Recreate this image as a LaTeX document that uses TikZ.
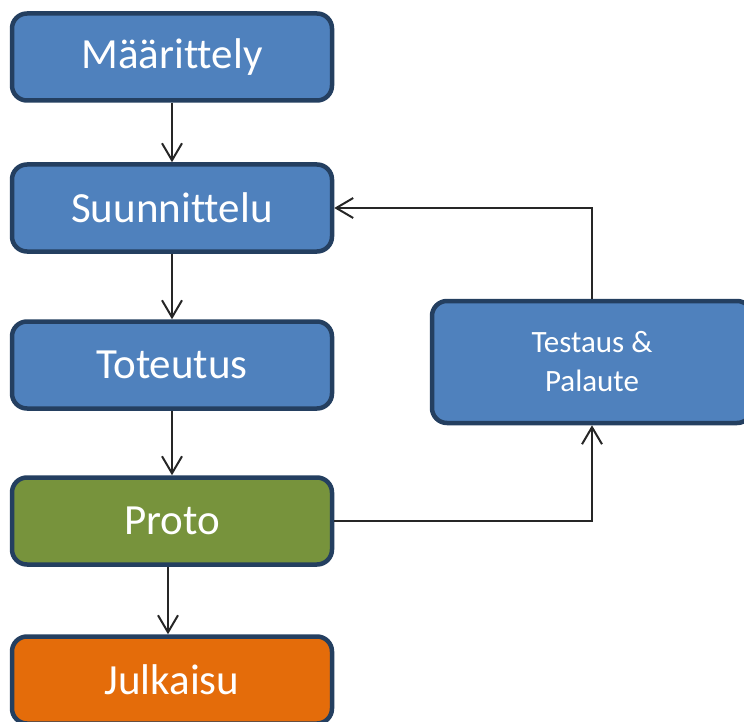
\documentclass[tikz,border=0pt]{standalone}
\usepackage{fontspec}
\setmainfont{Carlito}[Ligatures=NoCommon]
\usetikzlibrary{arrows.meta}
\definecolor{boxblue}{HTML}{4F81BD}
\definecolor{boxgreen}{HTML}{77933C}
\definecolor{boxorange}{HTML}{E46C0A}
\definecolor{boxedge}{HTML}{243F60}
\definecolor{lineclr}{HTML}{262626}
\begin{document}
\begin{tikzpicture}[x=1pt,y=-1pt]
				\tikzstyle{box}=[draw=boxedge,line width=4.5pt,rounded corners=15pt,fill=boxblue,text=white,minimum width=320pt,minimum height=87pt,font=\fontsize{43}{50}\selectfont]
				\tikzstyle{arrow}=[draw=lineclr,line width=2pt,-{Straight Barb[length=17pt,width=20pt]}]
				\useasboundingbox (0,0) rectangle (744,722);										% Rahmen
				
				\node (maar) [box] at (172,57) {Määrittely};
				\node (suun) [box] at (172,208) {Suunnittelu};
				\node (tot) [box] at (172,365) {Toteutus};
				\node (proto) [box,fill=boxgreen] at (172,521) {Proto};
				\node (julk) [box,fill=boxorange] at (172,680) {Julkaisu};
				\node (test) [box,minimum height=122pt,align=center,font=\fontsize{31}{39}\selectfont] at (592,362) {Testaus \&\\Palaute};
				
				\draw [arrow] (maar) -- (suun);
				\draw [arrow] (suun) -- (tot);
				\draw [arrow] (tot) -- (proto);
				\draw [arrow] ([xshift=-4pt]proto.south) -- ([xshift=-4pt]julk.north);
				\draw [arrow] (proto.east) -| (test.south);										% Testaus
				\draw [arrow] (test.north) |- (suun.east);										% Palaute
\end{tikzpicture}
\end{document}
